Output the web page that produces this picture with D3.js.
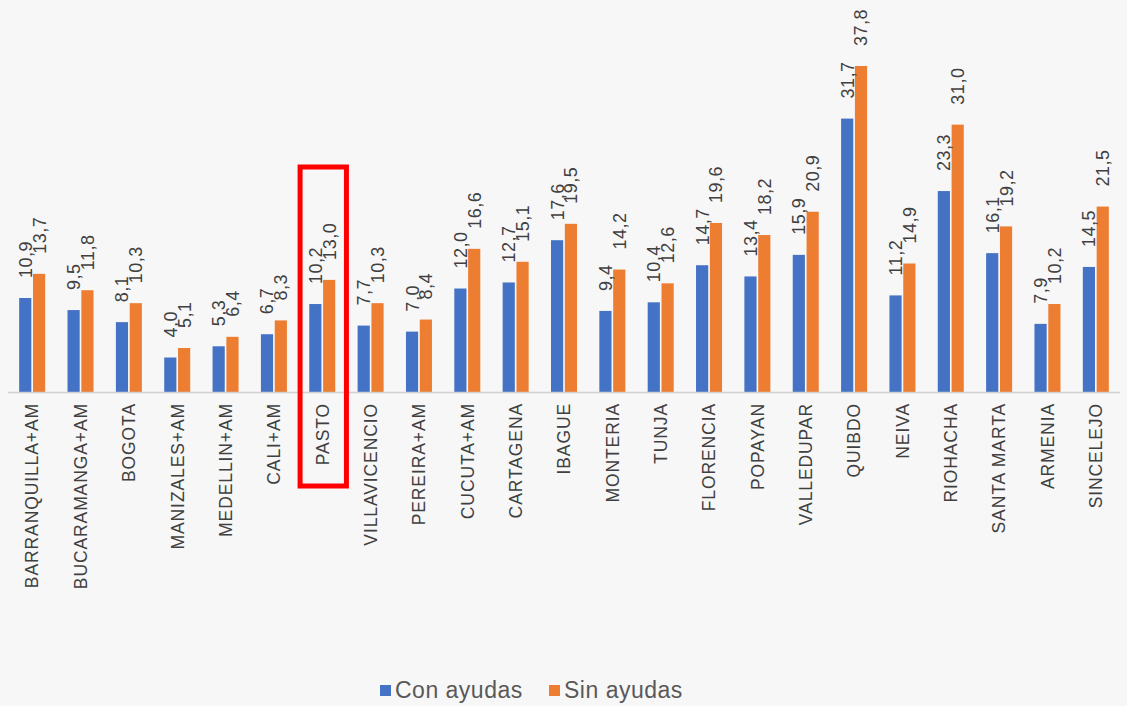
<!DOCTYPE html>
<html>
<head>
<meta charset="utf-8">
<script src="https://cdn.jsdelivr.net/npm/d3@7"></script>
<style>
  html, body { margin: 0; padding: 0; background: #f7f7f8; }
  svg { display: block; font-family: "Liberation Sans", Arial, sans-serif; }
</style>
</head>
<body>
<svg id="chart" width="1127" height="706"></svg>
<script>
// Chart data
const cities = [
  'BARRANQUILLA+AM', 'BUCARAMANGA+AM', 'BOGOTA', 'MANIZALES+AM', 'MEDELLIN+AM',
  'CALI+AM', 'PASTO', 'VILLAVICENCIO', 'PEREIRA+AM', 'CUCUTA+AM', 'CARTAGENA',
  'IBAGUE', 'MONTERIA', 'TUNJA', 'FLORENCIA', 'POPAYAN', 'VALLEDUPAR', 'QUIBDO',
  'NEIVA', 'RIOHACHA', 'SANTA MARTA', 'ARMENIA', 'SINCELEJO'
];
const conAyudas = [10.9, 9.5, 8.1, 4.0, 5.3, 6.7, 10.2, 7.7, 7.0, 12.0, 12.7, 17.6,
  9.4, 10.4, 14.7, 13.4, 15.9, 31.7, 11.2, 23.3, 16.1, 7.9, 14.5];
const sinAyudas = [13.7, 11.8, 10.3, 5.1, 6.4, 8.3, 13.0, 10.3, 8.4, 16.6, 15.1, 19.5,
  14.2, 12.6, 19.6, 18.2, 20.9, 37.8, 14.9, 31.0, 19.2, 10.2, 21.5];
const seriesNames = ['Con ayudas', 'Sin ayudas'];
const highlighted = 'PASTO';

const colors = ['#4472c4', '#ed7d31'];
const svg = d3.select('#chart');

const left = 8, right = 1120, baseY = 392;

const x = d3.scaleBand().domain(cities).range([left, right]).padding(0);
const inner = d3.scaleBand().domain([0, 1]).range([x.bandwidth() / 2 - 13, x.bandwidth() / 2 + 13]).paddingInner(0.12);
const y = d3.scaleLinear().domain([0, 37.8]).range([baseY, 66]);

const fmt = v => d3.format('.1f')(v).replace('.', ',');

const rows = cities.map((c, i) => ({ city: c, values: [conAyudas[i], sinAyudas[i]] }));

const groups = svg.append('g')
  .selectAll('g.city')
  .data(rows)
  .enter()
  .append('g')
  .attr('class', 'city')
  .attr('transform', d => `translate(${x(d.city)},0)`);

// bars
groups.selectAll('rect')
  .data(d => d.values.map((v, k) => ({ v, k })))
  .enter()
  .append('rect')
  .attr('x', d => inner(d.k))
  .attr('width', inner.bandwidth())
  .attr('y', d => y(d.v))
  .attr('height', d => baseY - y(d.v))
  .attr('fill', d => colors[d.k]);

// value labels, rotated
groups.selectAll('text.val')
  .data(d => d.values.map((v, k) => ({ v, k })))
  .enter()
  .append('text')
  .attr('class', 'val')
  .attr('transform', d => `translate(${inner(d.k) + inner.bandwidth() / 2},${y(d.v) - 20}) rotate(-90)`)
  .attr('dy', '0.36em')
  .attr('text-anchor', 'start')
  .style('font-size', '18px')
  .style('letter-spacing', '0.5px')
  .style('fill', '#404040')
  .text(d => fmt(d.v));

// baseline
svg.append('line')
  .attr('x1', left).attr('x2', right)
  .attr('y1', baseY + 0.5).attr('y2', baseY + 0.5)
  .attr('stroke', '#d0d0d0')
  .attr('stroke-width', 1.5);

// category labels
svg.append('g')
  .selectAll('text')
  .data(cities)
  .enter()
  .append('text')
  .attr('transform', d => `translate(${x(d) + x.bandwidth() / 2},403) rotate(-90)`)
  .attr('dy', '0.36em')
  .attr('text-anchor', 'end')
  .style('font-size', '17.5px')
  .style('letter-spacing', '0.9px')
  .style('fill', '#404040')
  .text(d => d);

// highlight box
svg.append('rect')
  .attr('x', x(highlighted) + 2)
  .attr('y', 167)
  .attr('width', x.bandwidth() - 2)
  .attr('height', 319)
  .attr('fill', 'none')
  .attr('stroke', '#ff0000')
  .attr('stroke-width', 5);

// legend
const legend = svg.append('g').attr('transform', 'translate(380,690)');
const legendX = [0, 169];
seriesNames.forEach((name, k) => {
  const g = legend.append('g').attr('transform', `translate(${legendX[k]},0)`);
  g.append('rect').attr('x', 0).attr('y', -5).attr('width', 11).attr('height', 11).attr('fill', colors[k]);
  g.append('text')
    .attr('x', 15)
    .attr('y', 0)
    .attr('dy', '0.36em')
    .style('font-size', '23px')
    .style('letter-spacing', '0.5px')
    .style('fill', '#595959')
    .text(name);
});
</script>
</body>
</html>
